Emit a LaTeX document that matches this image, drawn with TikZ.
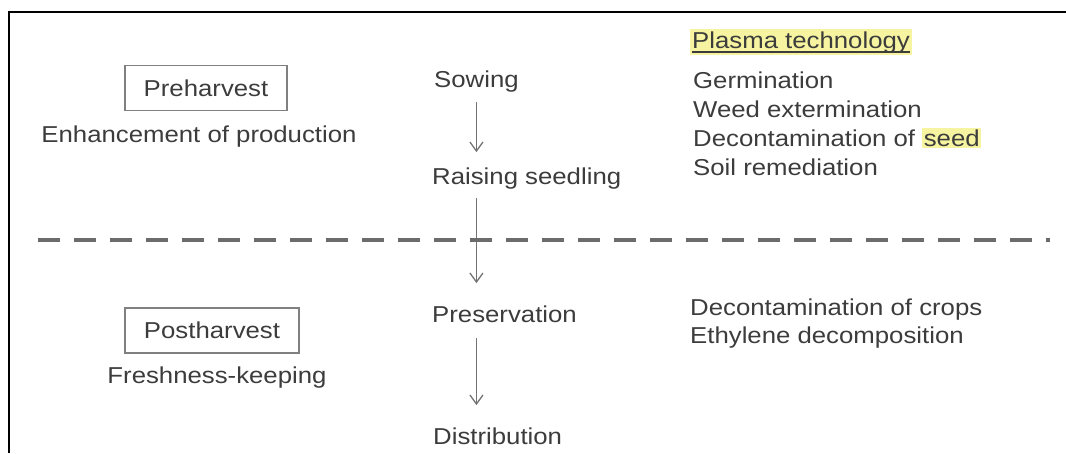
\documentclass[tikz,border=0pt]{standalone}
\usepackage{fontspec}
\setmainfont{Liberation Sans}[FakeStretch=1.12]
\usepackage{xcolor}
\usetikzlibrary{arrows.meta}
\definecolor{inkgray}{RGB}{60,60,60}
\definecolor{hilite}{RGB}{246,244,160}
\setlength{\fboxsep}{1.5pt}

\begin{document}
\begin{tikzpicture}[
  x=1pt, y=-1pt,
  txt/.style={inner sep=0pt,text=inkgray,font=\fontsize{23}{30}\selectfont},
  stage/.style={txt,draw=gray,line width=1.4pt,minimum height=45pt},
  flow/.style={-{Straight Barb[length=9pt,width=13pt]},draw=gray!90!black,line width=1.3pt},
  divider/.style={draw=gray!85!black,line width=4.5pt,dash pattern=on 22pt off 14pt}
]
\useasboundingbox (0,0) rectangle (1066,453);
\draw[line width=2.2pt] (9,453) -- (9,12) -- (1066,12);

% left column
\node[stage,minimum width=162pt] (pre) at (206,88) {Preharvest};
\node[txt,anchor=base] (prenote) at (199,142) {Enhancement of production};
\node[stage,minimum width=174pt] (post) at (212,330.5) {Postharvest};
\node[txt,anchor=base] (postnote) at (217,383) {Freshness-keeping};

% steps
\node[txt,anchor=base west] (sowing) at (434,87.5) {Sowing};
\node[txt,anchor=base west] (seedling) at (432,184) {Raising seedling};
\node[txt,anchor=base west] (preserve) at (432,322) {Preservation};
\node[txt,anchor=base west] (distrib) at (433,444) {Distribution};
\draw[flow,shorten <=9.7pt,shorten >=15pt] (sowing.south) -- (sowing.south |- seedling.north);
\draw[flow,shorten <=9pt,shorten >=22pt] (sowing.south |- seedling.south) -- (sowing.south |- preserve.north);
\draw[flow,shorten <=16pt,shorten >=22pt] (sowing.south |- preserve.south) -- (sowing.south |- distrib.north);

% plasma uses
\node[txt,fill=hilite,inner sep=2pt,anchor=base west] (plasma) at (690,48) {Plasma technology};
\draw[inkgray,line width=1.3pt] ([xshift=2pt,yshift=-4pt]plasma.base west) -- ([xshift=-2pt,yshift=-4pt]plasma.base east);
\node[txt,anchor=base west] (germ) at (693,88) {Germination};
\node[txt,anchor=base west] (weed) at (693,117) {Weed extermination};
\node[txt,anchor=base west] (seed) at (693,146) {Decontamination of \colorbox{hilite}{seed}};
\node[txt,anchor=base west] (soil) at (693,175) {Soil remediation};
\node[txt,anchor=base west] (crops) at (690,315) {Decontamination of crops};
\node[txt,anchor=base west] (ethyl) at (690,343) {Ethylene decomposition};

\draw[divider] (38,240) -- (1050,240);
\end{tikzpicture}
\end{document}
